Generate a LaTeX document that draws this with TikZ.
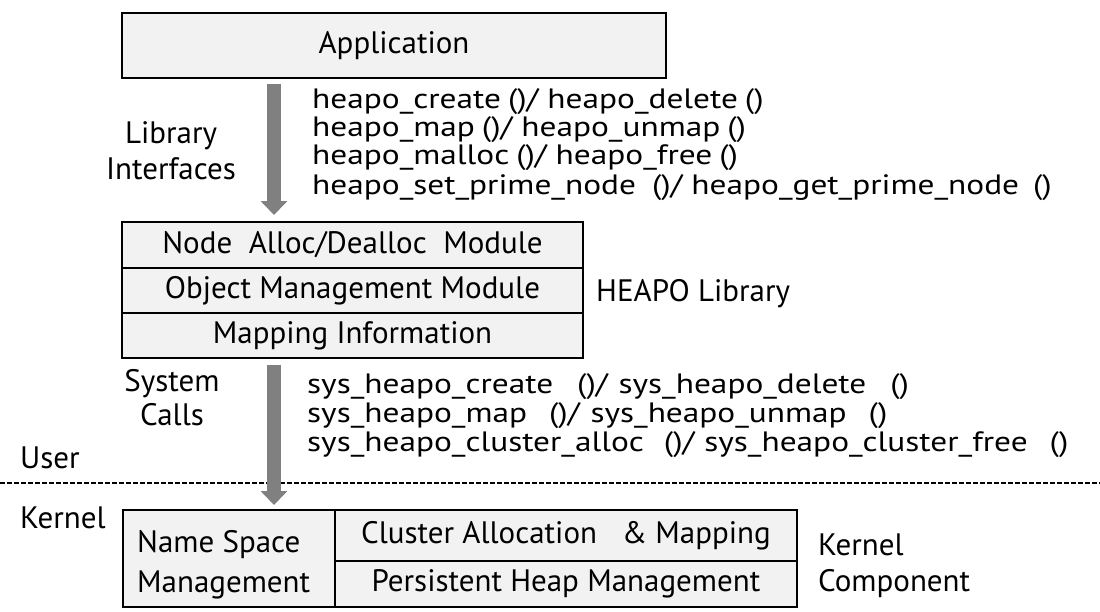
\documentclass[tikz,border=0pt]{standalone}
\usepackage{fontspec}
\setmainfont{PT Sans}
\newfontfamily\apifont[FakeStretch=1.19]{PT Sans}
\usetikzlibrary{arrows.meta}
\definecolor{boxfill}{HTML}{F2F2F2}
\definecolor{arrowgray}{HTML}{808080}
\newcommand{\gap}[1]{\hspace*{#1}}
\begin{document}
\begin{tikzpicture}[x=1pt,y=-1pt,
  box/.style={draw=black, line width=2.6pt, fill=boxfill, inner sep=0pt,
    font=\fontsize{31}{32}\selectfont},
  lbl/.style={inner sep=0pt, font=\fontsize{31}{32}\selectfont},
  api/.style={inner sep=0pt, anchor=base west, font=\apifont\fontsize{28}{29}\selectfont},
  fatarrow/.style={draw=arrowgray, line width=14pt,
    -{Triangle[width=26pt,length=14pt]}}]
\useasboundingbox (0,0) rectangle (1100,611);

% user/kernel boundary
\draw[line width=2pt, dash pattern=on 5pt off 2pt] (0,483) -- (1100,483);

% application layer
\node[box, minimum width=544pt, minimum height=65pt] (app) at (394,45.5) {Application};

% library interfaces
\node[lbl, anchor=base] (lib1) at (171,143) {Library};
\node[lbl, anchor=base] (lib2) at (171,179) {Interfaces};
\node[api] (f1) at (312,108) {heapo\_create\gap{7pt}()/\gap{9pt}heapo\_delete\gap{7pt}()};
\node[api] (f2) at (312,136) {heapo\_map\gap{7pt}()/\gap{9pt}heapo\_unmap\gap{7pt}()};
\node[api] (f3) at (312,164) {heapo\_malloc\gap{7pt}()/\gap{9pt}heapo\_free\gap{7pt}()};
\node[api] (f4) at (312,194) {heapo\_set\_prime\_node\gap{16pt}()/\gap{9pt}heapo\_get\_prime\_node\gap{14pt}()};

% HEAPO library stack
\node[box, minimum width=461pt, minimum height=46pt] (m1) at (352.5,245) {Node\ \ Alloc/Dealloc\ \ Module};
\node[box, minimum width=461pt, minimum height=45pt] (m2) at (352.5,290.5) {Object Management Module};
\node[box, minimum width=461pt, minimum height=45pt] (m3) at (352.5,335.5) {Mapping Information};
\node[lbl, anchor=base west] (heapo) at (596,301) {HEAPO Library};

% system calls
\node[lbl, anchor=base] (sc1) at (172,391) {System};
\node[lbl, anchor=base] (sc2) at (172,425) {Calls};
\node[api] (s1) at (307,393) {sys\_heapo\_create\gap{24pt}()/\gap{11pt}sys\_heapo\_delete\gap{24pt}()};
\node[api] (s2) at (307,422) {sys\_heapo\_map\gap{22pt}()/\gap{11pt}sys\_heapo\_unmap\gap{22pt}()};
\node[api] (s3) at (307,451) {sys\_heapo\_cluster\_alloc\gap{20pt}()/\gap{10pt}sys\_heapo\_cluster\_free\gap{22pt}()};

\node[lbl, anchor=base west] (user) at (20,468) {User};
\node[lbl, anchor=base west] (kern) at (20,528) {Kernel};

% kernel components
\node[box, minimum width=212pt, minimum height=97pt] (ns) at (229,558.5) {};
\node[lbl, anchor=base west] (ns1) at (137,552) {Name Space};
\node[lbl, anchor=base west] (ns2) at (137,592) {Management};
\node[box, minimum width=462pt, minimum height=51pt] (ca) at (566,535.5) {Cluster Allocation\ \ \ \& Mapping};
\node[box, minimum width=462pt, minimum height=46pt] (ph) at (566,584) {Persistent Heap Management};
\node[lbl, anchor=base west] (kc1) at (818,555) {Kernel};
\node[lbl, anchor=base west] (kc2) at (818,591) {Component};

% flow arrows
\coordinate (a1s) at (274,84);
\coordinate (a1e) at (274,215);
\coordinate (a2s) at (274,365);
\coordinate (a2e) at (274,505);
\draw[fatarrow] (a1s) -- (a1e);
\draw[fatarrow] (a2s) -- (a2e);
\end{tikzpicture}
\end{document}
